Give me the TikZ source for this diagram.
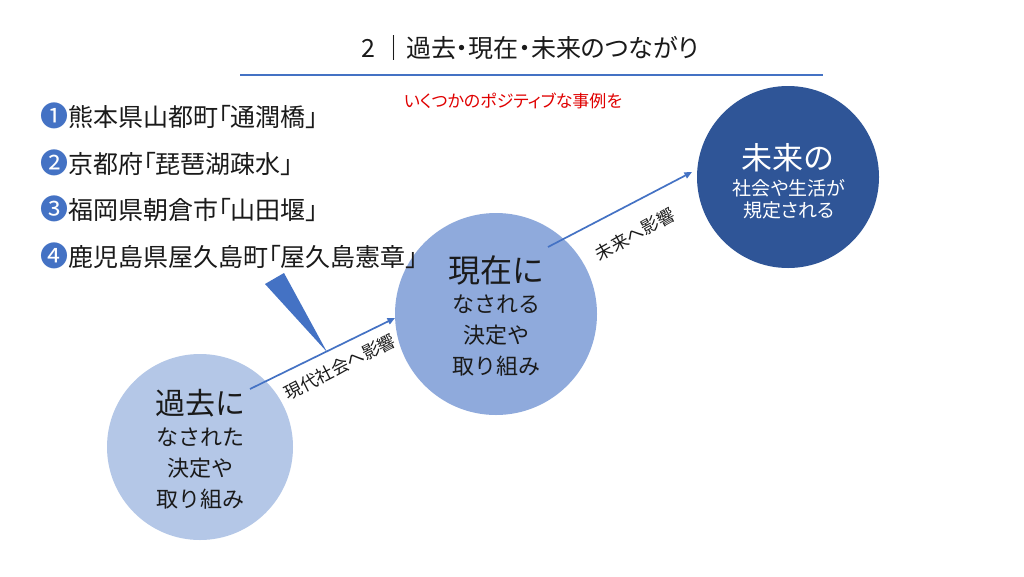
\documentclass[tikz,border=0pt]{standalone}
\usepackage{fontspec}
\setmainfont{Noto Sans CJK JP}
\newfontfamily\pfont{Noto Sans CJK JP}[RawFeature=+palt]
\usetikzlibrary{arrows.meta}
\definecolor{accent}{HTML}{4472C4}
\definecolor{pastfill}{HTML}{B4C7E7}
\definecolor{presfill}{HTML}{8FAADC}
\definecolor{futfill}{HTML}{2F5597}
\definecolor{redtxt}{HTML}{E00000}
\definecolor{ink}{HTML}{1A1A1A}
\newcommand{\fs}[1]{\fontsize{#1}{#1}\selectfont}
\newcommand{\numb}[1]{{\color{accent}\fs{28}#1}}
\begin{document}
\begin{tikzpicture}[x=1pt,y=-1pt,
  bigcircle/.style={circle,inner sep=0pt,draw=none},
  circtxt/.style={text=ink,inner sep=0pt,anchor=center},
  listitem/.style={text=ink,inner sep=0pt,anchor=west,font=\pfont\fs{25}},
  flowarrow/.style={draw=accent,line width=1.7pt,-{Triangle[length=7.5pt,width=6.5pt]}},
  arrowlabel/.style={text=ink,inner sep=0pt,font=\fs{17.5}}]
\useasboundingbox[fill=white] (0,0) rectangle (1024,576);

% title
\node[text=ink,inner sep=0pt,font=\pfont\fs{25}] (title) at (530,48) {2 ｜過去・現在・未来のつながり};
\coordinate (tl) at (240,75);
\coordinate (tr) at (823,75);
\draw[accent,line width=2.4pt] (tl) -- (tr);
\node[text=redtxt,inner sep=0pt,font=\pfont\fs{17}] (sub) at (513,101) {いくつかのポジティブな事例を};

% callout wedge
\fill[accent] (265,284) -- (284,273) -- (327,352) -- cycle;

% circles
\node[bigcircle,fill=pastfill,minimum size=186pt] (past) at (200,447) {};
\node[bigcircle,fill=presfill,minimum size=202pt] (present) at (496,314) {};
\node[bigcircle,fill=futfill,minimum size=182pt] (future) at (788,177) {};

% list (drawn over the circles)
\node[listitem] (l1) at (40,116) {\numb{❶}熊本県山都町「通潤橋」};
\node[listitem] (l2) at (40,163) {\numb{❷}京都府「琵琶湖疎水」};
\node[listitem] (l3) at (40,209) {\numb{❸}福岡県朝倉市「山田堰」};
\node[listitem] (l4) at (40,256) {\numb{❹}鹿児島県屋久島町「屋久島憲章」};

% past text
\node[circtxt,font=\fs{30}] (pa1) at (200,403) {過去に};
\node[circtxt,font=\fs{22}] (pa2) at (200,437) {なされた};
\node[circtxt,font=\fs{22}] (pa3) at (200,468) {決定や};
\node[circtxt,font=\fs{22}] (pa4) at (200,499) {取り組み};

% present text
\node[circtxt,font=\fs{32}] (pr1) at (496,270) {現在に};
\node[circtxt,font=\fs{22}] (pr2) at (496,304) {なされる};
\node[circtxt,font=\fs{22}] (pr3) at (496,335) {決定や};
\node[circtxt,font=\fs{22}] (pr4) at (496,366) {取り組み};

% future text
\node[circtxt,text=white,font=\fs{31}] (fu1) at (788,158) {未来の};
\node[circtxt,text=white,font=\pfont\fs{19}] (fu2) at (789,188) {社会や生活が};
\node[circtxt,text=white,font=\pfont\fs{19}] (fu3) at (789,210) {規定される};

% arrows
\coordinate (a1s) at (250,389);
\coordinate (a1e) at (395,318);
\coordinate (a2s) at (548,247);
\coordinate (a2e) at (692,172);
\draw[flowarrow] (a1s) -- (a1e);
\draw[flowarrow] (a2s) -- (a2e);
\node[arrowlabel,rotate=27] (lab1) at (340,367) {現代社会へ影響};
\node[arrowlabel,rotate=29] (lab2) at (635,234) {未来へ影響};
\end{tikzpicture}
\end{document}
